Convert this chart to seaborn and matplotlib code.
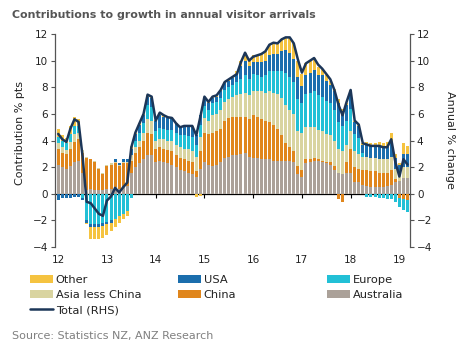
import numpy as np
import matplotlib
matplotlib.use("Agg")
import matplotlib.pyplot as plt
import seaborn as sns
from matplotlib.patches import Patch
from matplotlib.lines import Line2D

# ---- data (monthly, Jan 2012 - Mar 2019) ----
year_labels = ["12", "13", "14", "15", "16", "17", "18", "19"]

australia = [2.2, 2.0, 1.9, 2.1, 2.4, 2.5, 1.6, 0.3, 0.4, 0.3, 0.3, 0.3,
             0.4, 0.4, 0.5, 0.4, 0.5, 0.6, 1.6, 2.0, 2.3, 2.6, 2.9, 2.9,
             2.4, 2.5, 2.4, 2.3, 2.2, 2.0, 1.8, 1.7, 1.6, 1.5, 1.25, 1.9,
             2.4, 2.2, 2.1, 2.2, 2.4, 2.7, 2.8, 2.9, 2.9, 3.0, 3.1, 2.8,
             2.7, 2.7, 2.6, 2.6, 2.6, 2.5, 2.5, 2.5, 2.5, 2.5, 2.4, 1.5,
             1.3, 2.3, 2.4, 2.5, 2.5, 2.4, 2.3, 2.2, 1.8, 1.6, 1.5, 1.6,
             1.6, 0.9, 0.9, 0.7, 0.6, 0.5, 0.5, 0.5, 0.5, 0.6, 0.7, 0.9,
             1.0, 1.2, 1.2]
china = [1.2, 1.1, 1.1, 1.3, 1.5, 1.6, 1.5, 2.4, 2.2, 2.1, 1.6, 1.2,
         1.7, 1.8, 1.8, 1.7, 1.8, 1.7, 0.9, 1.1, 1.2, 1.4, 1.7, 1.6,
         1.0, 1.0, 1.0, 1.0, 1.0, 0.9, 0.9, 0.9, 0.9, 0.9, 0.5, 1.3,
         2.2, 2.3, 2.5, 2.5, 2.5, 2.8, 2.9, 2.9, 2.9, 2.8, 2.7, 2.8,
         3.2, 3.1, 3.0, 2.9, 2.8, 2.7, 2.4, 1.9, 1.3, 1.0, 0.8, 0.6,
         0.5, 0.3, 0.2, 0.2, 0.1, 0.1, 0.1, 0.2, 0.3, -0.4, -0.6, 0.8,
         1.8, 1.1, 1.0, 1.1, 1.2, 1.2, 1.2, 1.1, 1.1, 1.0, 1.1, 0.2,
         -0.3, -0.4, -0.5]
asia_less_china = [0.4, 0.4, 0.3, 0.5, 0.6, 0.5, 0.2, 0.05, 0.05, 0.05, 0.05, 0.05,
                   0.1, 0.1, 0.1, 0.1, 0.1, 0.1, 0.4, 0.4, 0.5, 0.6, 1.0, 1.0,
                   0.6, 0.65, 0.7, 0.7, 0.8, 0.8, 0.8, 0.8, 0.85, 0.85, 1.0, 1.1,
                   1.1, 1.0, 1.3, 1.3, 1.4, 1.4, 1.4, 1.5, 1.6, 1.7, 1.8, 1.8,
                   1.8, 1.9, 2.1, 2.1, 2.3, 2.4, 2.6, 2.8, 2.9, 2.8, 2.8, 2.6,
                   2.8, 2.4, 2.4, 2.3, 2.2, 2.2, 2.1, 2.0, 1.9, 1.8, 1.7, 1.3,
                   1.3, 1.2, 1.1, 1.0, 1.0, 1.0, 1.0, 1.0, 1.0, 1.0, 1.0, 0.8,
                   0.6, 0.8, 0.8]
europe = [0.5, 0.5, 0.5, 0.6, 0.6, 0.5, -0.3, -2.0, -2.3, -2.3, -2.3, -2.2,
          -2.1, -2.0, -1.9, -1.7, -1.5, -1.3, -0.3, 0.5, 0.6, 0.7, 1.1, 1.0,
          0.7, 0.8, 0.8, 0.8, 0.8, 0.85, 0.9, 1.0, 1.0, 1.0, 0.95, 0.9,
          0.9, 0.8, 0.9, 0.9, 0.9, 0.9, 0.9, 0.9, 1.0, 1.1, 1.3, 1.2,
          1.3, 1.2, 1.1, 1.3, 1.5, 1.6, 1.7, 2.0, 2.4, 2.5, 2.4, 2.4,
          2.2, 2.5, 2.6, 2.7, 2.6, 2.6, 2.5, 2.4, 2.3, 2.0, 1.9, 1.8,
          1.7, 1.3, 1.2, 0.3, -0.2, -0.2, -0.2, -0.3, -0.3, -0.4, -0.4, -0.6,
          -0.7, -0.8, -0.9]
usa = [-0.5, -0.3, -0.3, -0.3, -0.2, -0.2, -0.2, -0.2, -0.2, -0.2, -0.2, -0.2,
       -0.2, -0.2, 0.2, 0.1, 0.2, 0.2, 0.5, 0.5, 0.6, 0.6, 0.6, 0.7,
       0.8, 1.0, 0.9, 0.9, 0.85, 0.7, 0.6, 0.65, 0.7, 0.75, 0.7, 0.7,
       0.6, 0.5, 0.4, 0.4, 0.5, 0.5, 0.5, 0.5, 0.6, 1.0, 1.1, 1.0,
       0.9, 1.0, 1.1, 1.1, 1.2, 1.3, 1.3, 1.5, 1.7, 1.8, 1.7, 1.7,
       1.3, 1.4, 1.5, 1.6, 1.5, 1.6, 1.5, 1.4, 1.4, 1.4, 1.1, 1.2,
       1.2, 0.9, 0.9, 0.6, 0.9, 0.9, 0.9, 1.0, 0.9, 0.9, 1.0, 0.8,
       0.6, 1.0, 1.0]
other = [0.6, 0.4, 0.4, 0.6, 0.7, 0.5, 0.0, -0.1, -0.9, -0.9, -0.9, -0.9,
         -0.8, -0.6, -0.6, -0.5, -0.4, -0.4, 0.2, 0.1, 0.1, 0.1, 0.1, 0.1,
         0.05, 0.15, 0.1, 0.05, 0.05, 0.05, 0.05, 0.05, 0.05, 0.1, -0.2, -0.15,
         0.1, 0.1, 0.1, 0.1, 0.1, 0.1, 0.1, 0.1, 0.2, 0.4, 0.6, 0.4,
         0.5, 0.5, 0.6, 0.7, 0.8, 0.85, 0.8, 0.9, 0.95, 1.15, 1.2, 1.2,
         0.9, 0.9, 0.9, 0.9, 0.6, 0.5, 0.4, 0.3, 0.2, 0.3, 0.2, 0.1,
         0.2, 0.1, 0.1, 0.1, 0.2, 0.2, 0.2, 0.3, 0.3, 0.4, 0.8, 0.3,
         0.1, 0.8, 0.6]
total = [4.5, 4.1, 3.9, 4.9, 5.6, 5.4, 2.8, -0.6, -0.7, -1.1, -1.5, -1.65,
         -0.5, -0.2, 0.45, 0.1, 0.5, 0.85, 3.5, 4.6, 5.3, 6.0, 7.45, 7.3,
         5.5, 6.1, 5.9, 5.75, 5.7, 5.3, 5.0, 5.1, 5.1, 5.1, 4.4, 5.8,
         7.3, 6.9, 7.3, 7.4, 7.8, 8.4, 8.6, 8.8, 9.0, 9.9, 10.6, 10.0,
         10.3, 10.4, 10.5, 10.7, 11.2, 11.35, 11.3, 11.6, 11.75, 11.75, 11.3, 10.1,
         9.1, 9.8, 10.0, 10.2, 9.7, 9.4, 9.0, 8.6, 7.8, 6.7, 5.9, 6.9,
         7.8, 5.5, 5.2, 3.8, 3.7, 3.6, 3.6, 3.6, 3.5, 3.5, 4.1, 2.4,
         1.3, 2.6, 2.2]

# ---- styling ----
sns.set_theme(style="white")
plt.rcParams['font.family'] = ['DejaVu Sans']

series = [
    ("Australia", australia, "#ABA199"),
    ("China", china, "#E0861C"),
    ("Asia less China", asia_less_china, "#D9D4A0"),
    ("Europe", europe, "#22C0D6"),
    ("USA", usa, "#1B6EAD"),
    ("Other", other, "#F5C340"),
]
line_col = "#1C3658"

n = len(total)
idx = np.arange(n)

fig = plt.figure(figsize=(4.72, 3.51), dpi=100)
ax = fig.add_axes([0.1165, 0.296, 0.752, 0.607])

pos = np.zeros(n)
neg = np.zeros(n)
for name, vals, col in series:
    v = np.asarray(vals, float)
    bottom = np.where(v >= 0, pos, neg)
    sns.barplot(x=idx, y=v, bottom=bottom, color=col, width=0.74,
                errorbar=None, native_scale=True, saturation=1,
                linewidth=0, edgecolor="none", ax=ax)
    pos += np.where(v > 0, v, 0)
    neg += np.where(v < 0, v, 0)

ax2 = ax.twinx()
sns.lineplot(x=idx, y=total, ax=ax2, color=line_col, linewidth=1.8)

for a in (ax, ax2):
    a.set_ylim(-4, 12)
    a.set_yticks(range(-4, 13, 2))
    a.set_ylabel("")
    a.set_xlabel("")
ax.set_xlim(-0.8, 86.6)

# spines
for s in ("top", "right", "bottom"):
    ax.spines[s].set_visible(False)
for s in ("top", "left", "bottom"):
    ax2.spines[s].set_visible(False)
ax.spines["left"].set_color("#555555")
ax.spines["left"].set_linewidth(0.9)
ax2.spines["right"].set_color("#555555")
ax2.spines["right"].set_linewidth(0.9)

ax.tick_params(axis="y", left=True, length=3, width=0.8, color="#555555",
               labelsize=7.5, labelcolor="#222222", pad=2)
ax2.tick_params(axis="y", right=True, length=3, width=0.8, color="#555555",
                labelsize=7.5, labelcolor="#222222", pad=2)

ax.set_xticks(np.arange(0, n, 12))
ax.set_xticklabels(year_labels)
ax.tick_params(axis="x", bottom=True, length=0, labelsize=7.5,
               labelcolor="#222222", pad=6)

# zero line with year tick marks
sec = ax.secondary_xaxis(0.25)
sec.set_xticks(np.arange(0, n, 12))
sec.set_xticklabels([])
sec.tick_params(axis="x", length=3, width=0.8, color="black", direction="out")
sec.spines["bottom"].set_color("black")
sec.spines["bottom"].set_linewidth(0.9)

# texts
fig.text(12 / 472, 1 - 15 / 351, "Contributions to growth in annual visitor arrivals",
         fontsize=7.9, fontweight="bold", color="#555555", va="center", ha="left")
fig.text(0.042, 0.62, "Contribution % pts", rotation=90, fontsize=8,
         color="#222222", va="center", ha="center")
fig.text(0.953, 0.60, "Annual % change", rotation=270, fontsize=8,
         color="#222222", va="center", ha="center")
fig.text(12 / 472, 1 - 336 / 351, "Source: Statistics NZ, ANZ Research",
         fontsize=8, color="#808080", va="center", ha="left")

# legends (three columns)
colmap = {name: col for name, _, col in series}
def patch(name):
    return Patch(facecolor=colmap[name], edgecolor="none", label=name)

cols = [
    (30, [patch("Other"), patch("Asia less China"),
          Line2D([0], [0], color=line_col, lw=1.8, label="Total (RHS)")]),
    (178, [patch("USA"), patch("China")]),
    (327, [patch("Europe"), patch("Australia")]),
]
for x0, handles in cols:
    fig.legend(handles=handles, loc="upper left",
               bbox_to_anchor=(x0 / 472, 1 - 275 / 351),
               frameon=False, fontsize=8.2, borderpad=0, borderaxespad=0,
               handlelength=2.0, handleheight=0.6, handletextpad=0.25,
               labelspacing=0.45, labelcolor="#222222")

fig.savefig("out.png", dpi=100)
